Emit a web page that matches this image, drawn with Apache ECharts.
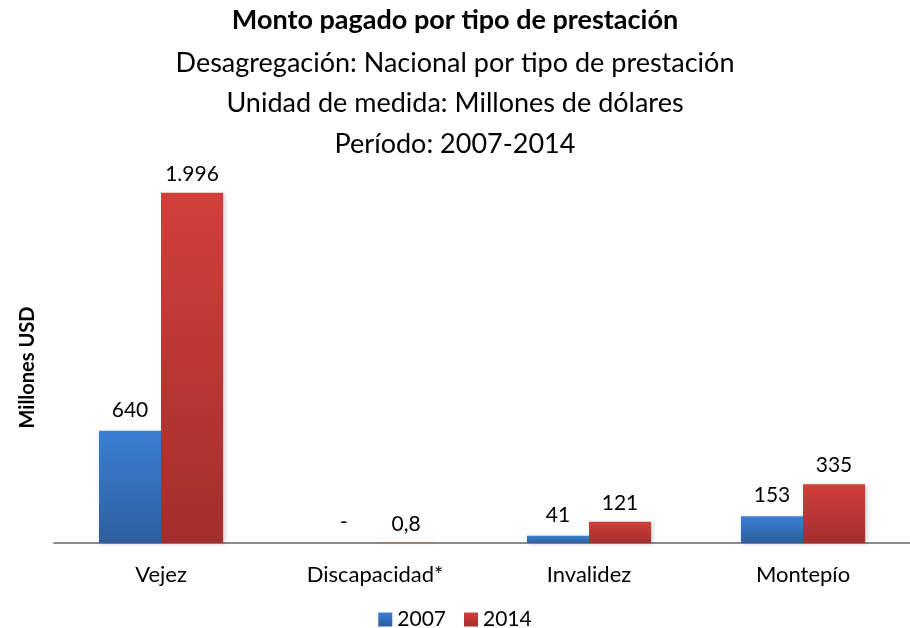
<!DOCTYPE html>
<html>
<head>
    <meta charset="UTF-8">
    <title>Monto pagado por tipo de prestación</title>
    <script src="https://cdn.jsdelivr.net/npm/echarts@6/dist/echarts.min.js"></script>
    <style>
        html, body { margin: 0; padding: 0; background: #fff; }
        #chart { width: 910px; height: 628px; }
    </style>
</head>
<body>
<div id="chart"></div>
<script type="text/javascript">
// datos
var categorias = ['Vejez', 'Discapacidad*', 'Invalidez', 'Montepío'];
var anios = ['2007', '2014'];
var valores2007 = [640, 0, 41, 153];
var valores2014 = [1996, 0.8, 121, 335];

var fuente = 'Lato, "Open Sans", sans-serif';

// formato numerico: miles con punto, decimal con coma, cero como "-"
function formato(p) {
    var v = p.value;
    if (v === 0) return '-';
    var partes = String(v).split('.');
    partes[0] = partes[0].replace(/\B(?=(\d{3})+(?!\d))/g, '.');
    return partes.join(',');
}

function degradado(arriba, abajo) {
    return new echarts.graphic.LinearGradient(0, 0, 0, 1, [
        {offset: 0, color: arriba},
        {offset: 1, color: abajo}
    ]);
}

var myChart = echarts.init(document.getElementById('chart'));
var option = {
    animation: false,
    textStyle: {fontFamily: fuente},
    title: [
        {text: 'Monto pagado por tipo de prestación', left: 'center', top: 2,
            textStyle: {fontSize: 27, fontWeight: 'bold', color: '#000', fontFamily: fuente}},
        {text: 'Desagregación: Nacional por tipo de prestación', left: 'center', top: 45,
            textStyle: {fontSize: 27, fontWeight: 'normal', color: '#000', fontFamily: fuente}},
        {text: 'Unidad de medida: Millones de dólares', left: 'center', top: 85,
            textStyle: {fontSize: 27, fontWeight: 'normal', color: '#000', fontFamily: fuente}},
        {text: 'Período: 2007-2014', left: 'center', top: 126,
            textStyle: {fontSize: 27, fontWeight: 'normal', color: '#000', fontFamily: fuente}}
    ],
    legend: {
        data: anios,
        bottom: -7,
        left: 'center',
        icon: 'rect',
        itemWidth: 14,
        itemHeight: 14,
        itemGap: 18,
        textStyle: {fontSize: 21, color: '#000', fontFamily: fuente}
    },
    grid: {left: 54, right: -15, top: 192, bottom: 85, containLabel: false},
    xAxis: {
        type: 'category',
        data: categorias,
        axisLine: {lineStyle: {color: '#8c8c8c', width: 2}},
        axisTick: {show: false},
        axisLabel: {fontSize: 22, color: '#000', margin: 21, fontFamily: fuente}
    },
    yAxis: {
        type: 'value',
        min: 0,
        max: 2000,
        name: 'Millones USD',
        nameLocation: 'middle',
        nameGap: 16,
        nameTextStyle: {fontSize: 20, fontWeight: 'bold', color: '#000', fontFamily: fuente},
        axisLine: {show: false},
        axisTick: {show: false},
        axisLabel: {show: false},
        splitLine: {show: false}
    },
    series: [
        {
            name: '2007',
            type: 'bar',
            data: valores2007,
            barGap: '0%',
            barCategoryGap: '42%',
            itemStyle: {
                color: degradado('#3c7fd3', '#2d5f9f'),
                shadowColor: 'rgba(0,0,0,0.18)', shadowBlur: 4, shadowOffsetX: 2, shadowOffsetY: 1
            },
            label: {show: true, position: 'top', distance: 10, fontSize: 21, color: '#000',
                fontFamily: fuente, formatter: formato}
        },
        {
            name: '2014',
            type: 'bar',
            data: valores2014,
            itemStyle: {
                color: degradado('#d23f3b', '#a12f2c'),
                shadowColor: 'rgba(0,0,0,0.18)', shadowBlur: 4, shadowOffsetX: 2, shadowOffsetY: 1
            },
            label: {show: true, position: 'top', distance: 8, fontSize: 21, color: '#000',
                fontFamily: fuente, formatter: formato}
        }
    ]
};
myChart.setOption(option);
window.onresize = myChart.resize;
</script>
</body>
</html>
